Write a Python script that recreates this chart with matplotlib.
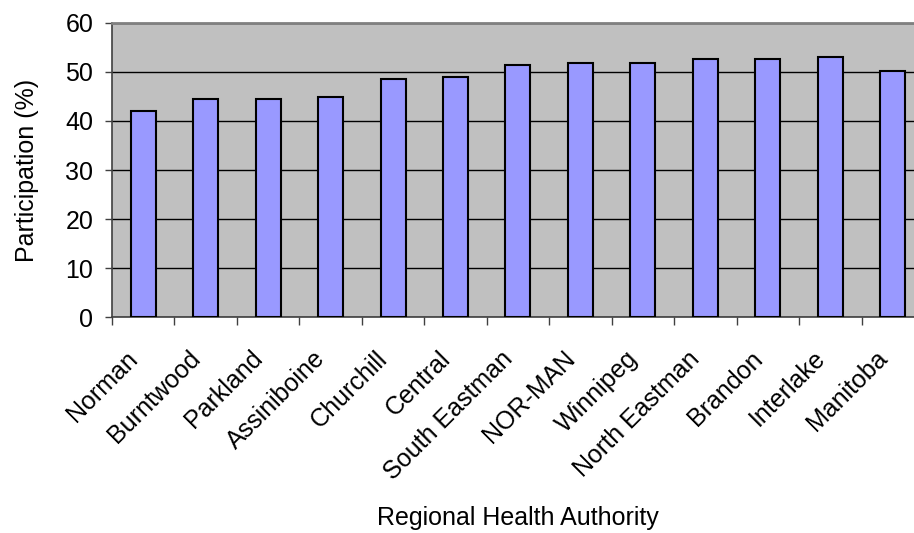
import numpy as np
import matplotlib.pyplot as plt
import matplotlib.transforms as mtransforms

plt.rcParams['font.family'] = ['Liberation Sans', 'DejaVu Sans']

regions = ['Norman', 'Burntwood', 'Parkland', 'Assiniboine', 'Churchill', 'Central',
           'South Eastman', 'NOR-MAN', 'Winnipeg', 'North Eastman', 'Brandon',
           'Interlake', 'Manitoba']
participation = [42.0, 44.5, 44.5, 44.9, 48.6, 49.0, 51.4, 51.8, 51.8, 52.7, 52.7, 53.0, 50.2]

fig = plt.figure(figsize=(9.14, 5.33), dpi=100)
# plot area runs a little past the right edge of the figure
ax = fig.add_axes([0.1225, 0.4047, 0.8884, 0.5527])
ax.set_facecolor('#C0C0C0')

x = np.arange(len(regions))
ax.bar(x, participation, width=0.4, color='#9999FF', edgecolor='black', linewidth=1.5, zorder=3)

ax.set_xlim(-0.5, len(regions) - 0.5)
ax.set_ylim(0, 60)
ax.set_yticks(np.arange(0, 61, 10))
ax.yaxis.grid(True, color='black', linewidth=1, zorder=1)

# ticks sit on the category boundaries, labels under the bars
ax.set_xticks(np.arange(-0.5, len(regions) - 0.5, 1))
ax.set_xticklabels([])
ax.set_xticks(x, minor=True)
ax.set_xticklabels(regions, minor=True, rotation=45, ha='right', va='center',
                   rotation_mode='anchor', fontsize=18)
ax.tick_params(axis='x', which='minor', length=0, pad=27)
ax.tick_params(axis='x', which='major', length=5.5, width=1, color='#404040')
ax.tick_params(axis='y', length=5, width=1, color='#404040', labelsize=18, pad=8.5)

# nudge the slanted names a bit to the left
shift = mtransforms.ScaledTranslation(-9 / 100, 0, fig.dpi_scale_trans)
for lbl in ax.get_xticklabels(minor=True):
    lbl.set_transform(lbl.get_transform() + shift)

for side in ['left', 'bottom']:
    ax.spines[side].set_color('#404040')
    ax.spines[side].set_linewidth(1.2)
ax.spines['top'].set_color('#808080')
ax.spines['top'].set_linewidth(2)
ax.spines['right'].set_visible(False)

ax.set_ylabel('Participation (%)', fontsize=18, labelpad=19)
ax.set_xlabel('Regional Health Authority', fontsize=18)
ax.xaxis.set_label_coords(0.5, -0.64)

fig.savefig('out.png', dpi=100)
